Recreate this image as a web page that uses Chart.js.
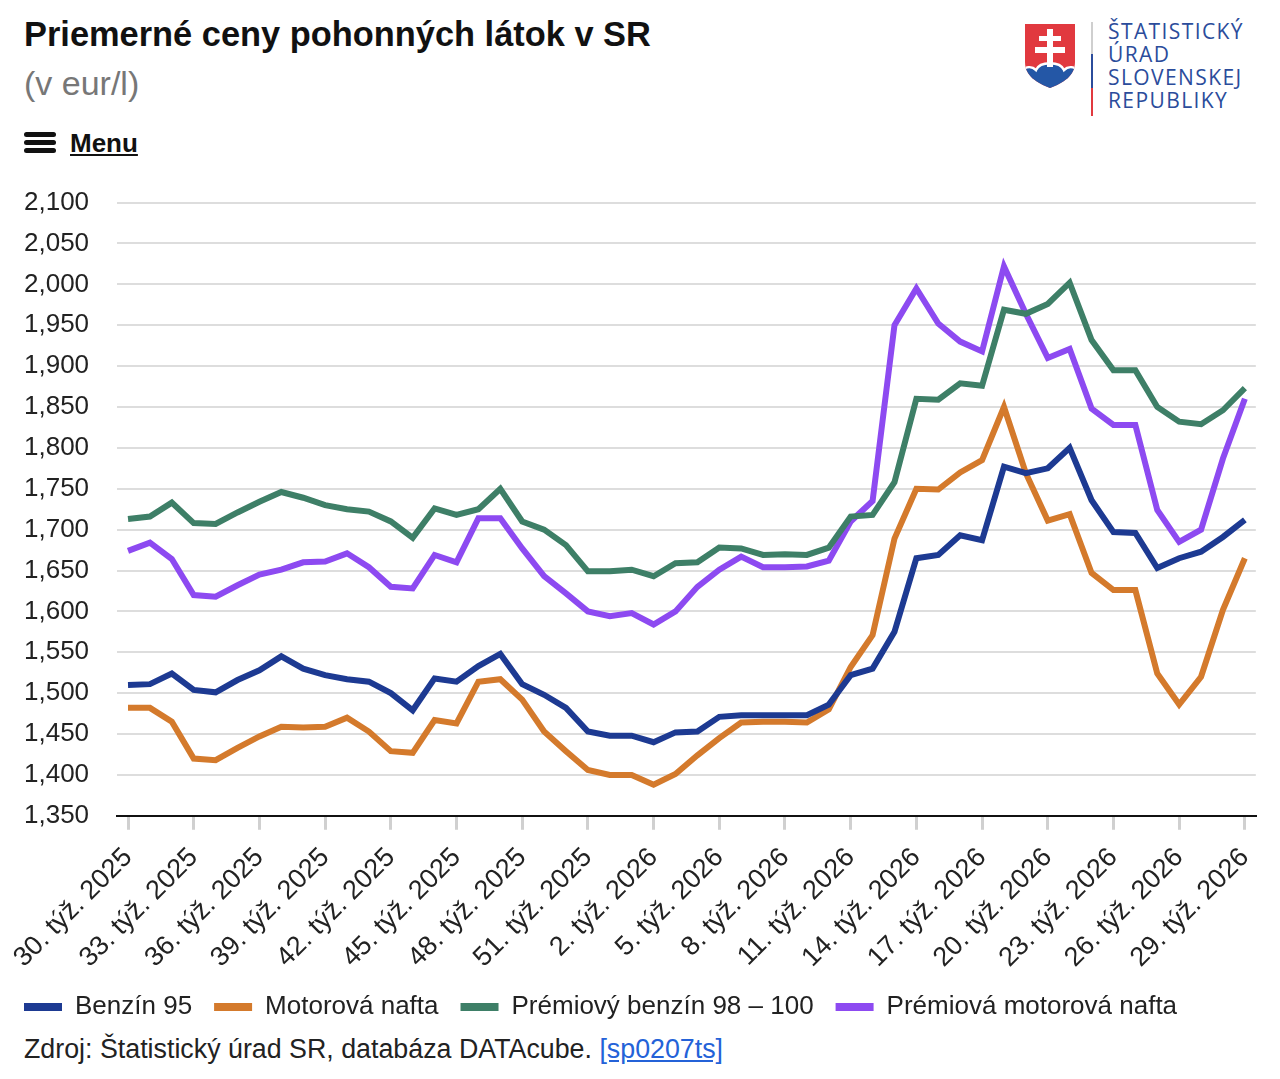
<!DOCTYPE html>
<html>
<head>
<meta charset="utf-8">
<script src="https://cdn.jsdelivr.net/npm/chart.js@4/dist/chart.umd.min.js"></script>
<style>
  body { margin: 0; background: #fff; font-family: "Liberation Sans", Arial, sans-serif; width: 1280px; height: 1079px; position: relative; overflow: hidden; color: #111; }
  .title { position: absolute; left: 24px; top: 17px; font-size: 34.4px; font-weight: bold; line-height: 1; white-space: nowrap; }
  .subtitle { position: absolute; left: 24px; top: 66px; font-size: 34px; color: #777; line-height: 1; }
  .menu { position: absolute; left: 24px; top: 128px; font-size: 26px; font-weight: bold; line-height: 1; }
  .menu .bars { position: absolute; left: 0; top: 4px; width: 32px; }
  .menu .bars span { display: block; height: 5px; border-radius: 3px; background: #111; margin-bottom: 3px; }
  .menu .txt { position: absolute; left: 46px; top: 2px; text-decoration: underline; }
  .logo { position: absolute; left: 1018px; top: 16px; }
  .logotext { position: absolute; left: 1108px; top: 20px; color: #2b4c9b; font-family: "Open Sans", "DejaVu Sans", sans-serif; font-size: 21px; line-height: 23px; letter-spacing: 1.4px; }
  #wrap { position: absolute; left: 0; top: 159px; width: 1280px; height: 871px; }
  .source { position: absolute; left: 24px; top: 1034px; font-size: 26.8px; color: #222; white-space: nowrap; }
  .source a { color: #2462d8; text-decoration: underline; }
</style>
</head>
<body>
<div class="title">Priemerné ceny pohonných látok v SR</div>
<div class="subtitle">(v eur/l)</div>
<div class="menu"><div class="bars"><span></span><span></span><span></span></div><div class="txt">Menu</div></div>

<svg class="logo" width="80" height="102" viewBox="0 0 80 102">
  <defs>
    <clipPath id="sh"><path d="M7 8 H57 V46 C57 60 45 67 32 72 C19 67 7 60 7 46 Z"/></clipPath>
  </defs>
  <path d="M7 8 H57 V46 C57 60 45 67 32 72 C19 67 7 60 7 46 Z" fill="#e1393f"/>
  <g clip-path="url(#sh)">
    <path d="M2 80 V56 C8 50 14 50 18 54 C22 45 42 45 46 54 C50 50 56 50 62 56 V80 Z" fill="#2457a6" stroke="#fff" stroke-width="2.5"/>
  </g>
  <rect x="29" y="13" width="6" height="38" fill="#fff"/>
  <rect x="21" y="20" width="22" height="5" fill="#fff"/>
  <rect x="17" y="31" width="30" height="6" fill="#fff"/>
  <rect x="73" y="6" width="2" height="32" fill="#cfcfcf"/>
  <rect x="73" y="38" width="2" height="34" fill="#2b4c9b"/>
  <rect x="73" y="72" width="2" height="28" fill="#e1393f"/>
</svg>
<div class="logotext">ŠTATISTICKÝ<br>ÚRAD<br>SLOVENSKEJ<br>REPUBLIKY</div>

<div id="wrap"><canvas id="chart" width="1280" height="871"></canvas></div>
<div class="source">Zdroj: Štatistický úrad SR, databáza DATAcube. <a href="#">[sp0207ts]</a></div>

<script>
// week labels (30. týž. 2025 ... 29. týž. 2026)
const weeks = [
  '30. týž. 2025', '31. týž. 2025', '32. týž. 2025', '33. týž. 2025', '34. týž. 2025', '35. týž. 2025',
  '36. týž. 2025', '37. týž. 2025', '38. týž. 2025', '39. týž. 2025', '40. týž. 2025', '41. týž. 2025',
  '42. týž. 2025', '43. týž. 2025', '44. týž. 2025', '45. týž. 2025', '46. týž. 2025', '47. týž. 2025',
  '48. týž. 2025', '49. týž. 2025', '50. týž. 2025', '51. týž. 2025', '52. týž. 2025', '1. týž. 2026',
  '2. týž. 2026', '3. týž. 2026', '4. týž. 2026', '5. týž. 2026', '6. týž. 2026', '7. týž. 2026',
  '8. týž. 2026', '9. týž. 2026', '10. týž. 2026', '11. týž. 2026', '12. týž. 2026', '13. týž. 2026',
  '14. týž. 2026', '15. týž. 2026', '16. týž. 2026', '17. týž. 2026', '18. týž. 2026', '19. týž. 2026',
  '20. týž. 2026', '21. týž. 2026', '22. týž. 2026', '23. týž. 2026', '24. týž. 2026', '25. týž. 2026',
  '26. týž. 2026', '27. týž. 2026', '28. týž. 2026', '29. týž. 2026'
];

// prices in eur/l
const benzin95 = [
  1.510, 1.511, 1.524, 1.504, 1.501, 1.516, 1.528, 1.545, 1.530, 1.522,
  1.517, 1.514, 1.500, 1.479, 1.518, 1.514, 1.533, 1.548, 1.511, 1.498,
  1.482, 1.453, 1.448, 1.448, 1.440, 1.452, 1.453, 1.471, 1.473, 1.473,
  1.473, 1.473, 1.486, 1.522, 1.530, 1.575, 1.665, 1.669, 1.693, 1.687,
  1.777, 1.769, 1.775, 1.800, 1.736, 1.697, 1.696, 1.653, 1.665, 1.673,
  1.691, 1.712
];
const nafta = [
  1.482, 1.482, 1.465, 1.420, 1.418, 1.433, 1.447, 1.459, 1.458, 1.459,
  1.470, 1.453, 1.429, 1.427, 1.467, 1.463, 1.514, 1.517, 1.492, 1.453,
  1.429, 1.406, 1.400, 1.400, 1.388, 1.401, 1.424, 1.445, 1.464, 1.465,
  1.465, 1.464, 1.480, 1.532, 1.571, 1.689, 1.750, 1.749, 1.770, 1.785,
  1.850, 1.769, 1.711, 1.719, 1.647, 1.626, 1.626, 1.524, 1.486, 1.520,
  1.602, 1.665
];
const premBenzin = [
  1.713, 1.716, 1.733, 1.708, 1.707, 1.721, 1.734, 1.746, 1.739, 1.730,
  1.725, 1.722, 1.710, 1.690, 1.726, 1.718, 1.725, 1.750, 1.710, 1.700,
  1.681, 1.649, 1.649, 1.651, 1.643, 1.659, 1.660, 1.678, 1.677, 1.669,
  1.670, 1.669, 1.678, 1.716, 1.718, 1.758, 1.860, 1.859, 1.879, 1.876,
  1.969, 1.964, 1.976, 2.002, 1.932, 1.895, 1.895, 1.850, 1.832, 1.829,
  1.846, 1.873
];
const premNafta = [
  1.674, 1.684, 1.664, 1.620, 1.618, 1.632, 1.645, 1.651, 1.660, 1.661,
  1.671, 1.654, 1.630, 1.628, 1.669, 1.660, 1.714, 1.714, 1.677, 1.643,
  1.622, 1.600, 1.594, 1.598, 1.584, 1.600, 1.630, 1.651, 1.667, 1.654,
  1.654, 1.655, 1.662, 1.710, 1.735, 1.950, 1.995, 1.952, 1.930, 1.918,
  2.022, 1.964, 1.910, 1.921, 1.848, 1.828, 1.828, 1.724, 1.685, 1.700,
  1.787, 1.860
];

const seriesNames = ['Benzín 95', 'Motorová nafta', 'Prémiový benzín 98 – 100', 'Prémiová motorová nafta'];
const seriesColors = ['#1d3a92', '#d47a2c', '#3e7f67', '#8d4af1'];

const fontFamily = '"Liberation Sans", Arial, sans-serif';

// pull the legend back to the left page margin
const legendShift = {
  id: 'legendShift',
  afterLayout(chart) {
    chart.legend.left -= 22;
    chart.legend.right -= 22;
  }
};

const ctx = document.getElementById('chart').getContext('2d');
new Chart(ctx, {
  type: 'line',
  data: {
    labels: weeks,
    datasets: [benzin95, nafta, premBenzin, premNafta].map((d, i) => ({
      label: seriesNames[i],
      data: d,
      borderColor: seriesColors[i],
      backgroundColor: seriesColors[i],
      borderWidth: 6,
      pointRadius: 0,
      tension: 0
    }))
  },
  plugins: [legendShift],
  options: {
    responsive: false,
    animation: false,
    devicePixelRatio: 1,
    layout: { padding: { left: 24, right: 24, top: 0, bottom: 0 } },
    scales: {
      x: {
        offset: true,
        afterFit: s => { s.paddingLeft = 0; s.height -= 14; },
        grid: {
          offset: false,
          drawOnChartArea: false,
          tickLength: 14,
          lineWidth: 3,
          color: c => (c.index % 3 === 0 ? '#d0d0d0' : 'rgba(0,0,0,0)')
        },
        border: { display: true, color: '#111', width: 2 },
        ticks: {
          autoSkip: false,
          maxRotation: 45,
          minRotation: 45,
          padding: 12,
          color: '#222',
          font: { family: fontFamily, size: 27 },
          callback: (v, i) => (i % 3 === 0 ? weeks[i] : '')
        }
      },
      y: {
        min: 1.35,
        max: 2.1,
        // chart.js reserves the tick padding on both sides of the labels
        afterFit: s => { s.width -= 28; },
        grid: { color: '#dddddd', lineWidth: 2, drawTicks: false },
        border: { display: false },
        ticks: {
          stepSize: 0.05,
          padding: 28,
          color: '#222',
          font: { family: fontFamily, size: 26 },
          callback: v => v.toFixed(3).replace('.', ',')
        }
      }
    },
    plugins: {
      tooltip: { enabled: false },
      legend: {
        position: 'bottom',
        align: 'start',
        labels: {
          boxWidth: 38,
          boxHeight: 8,
          padding: 22,
          color: '#222',
          font: { family: fontFamily, size: 26 },
          generateLabels: chart => Chart.defaults.plugins.legend.labels.generateLabels(chart)
            .map(l => Object.assign(l, { lineWidth: 0, fillStyle: l.strokeStyle }))
        }
      }
    }
  }
});
</script>
</body>
</html>
